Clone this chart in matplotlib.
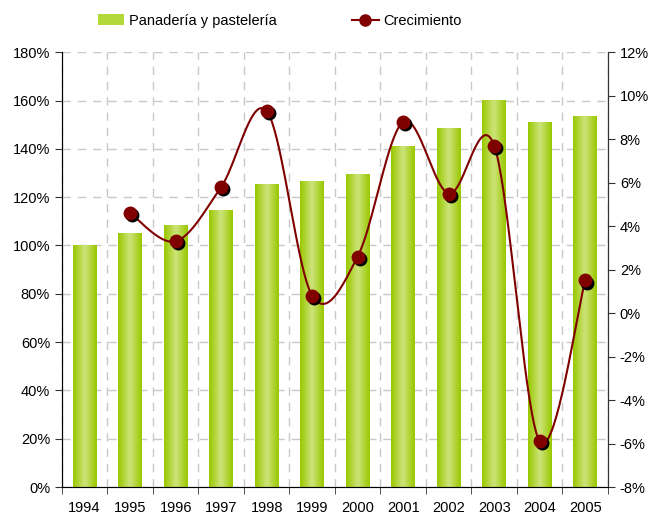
import numpy as np
import matplotlib.pyplot as plt
from matplotlib.patches import Patch
from matplotlib.lines import Line2D
from matplotlib.colors import LinearSegmentedColormap
from matplotlib.transforms import offset_copy

plt.rcParams['font.family'] = ['Liberation Sans', 'DejaVu Sans']
plt.rcParams['font.size'] = 10.5

# data
years = ['1994', '1995', '1996', '1997', '1998', '1999',
         '2000', '2001', '2002', '2003', '2004', '2005']
indice = [100, 104.8, 108.2, 114.4, 125.2, 126.3,
          129.2, 140.9, 148.6, 160.2, 150.8, 153.2]
growth_years = years[1:]
crecimiento = [4.6, 3.3, 5.8, 9.3, 0.8, 2.6, 8.8, 5.5, 7.7, -5.9, 1.5]

fig = plt.figure(figsize=(6.58, 5.17), dpi=100)
ax = fig.add_axes([0.094, 0.058, 0.830, 0.841])
ax2 = ax.twinx()

x = np.arange(len(years))
w = 0.52
grad = LinearSegmentedColormap.from_list('g', ['#99c800', '#cde47a', '#99c800'])
g = np.linspace(0, 1, 64).reshape(1, -1)
for xi, h in zip(x, indice):
    ax.imshow(g, cmap=grad, extent=(xi - w / 2, xi + w / 2, 0, h),
              aspect='auto', zorder=2, interpolation='bilinear')

ax.set_xlim(-0.5, len(years) - 0.5)
ax.set_ylim(0, 180)
ax.set_yticks(np.arange(0, 181, 20))
ax.set_yticklabels([f'{v}%' for v in range(0, 181, 20)])
ax.set_xticks(x)
ax.set_xticklabels(years)
ax.set_xticks(np.arange(-0.5, len(years), 1), minor=True)
ax.tick_params(axis='x', which='major', length=0, pad=10)
ax.tick_params(axis='x', which='minor', length=5, color='#333333')
ax.tick_params(axis='y', length=5, color='#333333')
ax.grid(True, axis='y', color='#c8c8c8', linestyle=(0, (6, 5)), linewidth=1, zorder=0)
ax.grid(True, axis='x', which='minor', color='#c8c8c8', linestyle=(0, (6, 5)), linewidth=1, zorder=0)
ax.set_axisbelow(True)

ax.spines['top'].set_visible(False)
ax2.spines['top'].set_visible(False)
ax.spines['left'].set_color('#333333')
ax.spines['bottom'].set_color('#808080')
ax2.spines['right'].set_color('#333333')

# smoothed line (Bezier through the points, like the spreadsheet smoothing)
gx = np.arange(1, len(years)).astype(float)
gy = np.array(crecimiento, dtype=float)
px = np.concatenate([[gx[0]], gx, [gx[-1]]])
py = np.concatenate([[gy[0]], gy, [gy[-1]]])
sx, sy = [], []
t = np.linspace(0, 1, 40)
for i in range(1, len(px) - 2):
    p0 = np.array([px[i], py[i]])
    p3 = np.array([px[i + 1], py[i + 1]])
    p1 = p0 + (np.array([px[i + 1], py[i + 1]]) - np.array([px[i - 1], py[i - 1]])) / 6
    p2 = p3 - (np.array([px[i + 2], py[i + 2]]) - np.array([px[i], py[i]])) / 6
    b = ((1 - t) ** 3)[:, None] * p0 + (3 * (1 - t) ** 2 * t)[:, None] * p1 \
        + (3 * (1 - t) * t ** 2)[:, None] * p2 + (t ** 3)[:, None] * p3
    sx.extend(b[:, 0])
    sy.extend(b[:, 1])
ax2.plot(sx, sy, color='#800000', linewidth=1.5, zorder=3)
# marker shadow
shadow = offset_copy(ax2.transData, fig=fig, x=1.5, y=-1.5, units='points')
ax2.plot(gx, gy, linestyle='none', marker='o', markersize=9, color='black',
         transform=shadow, zorder=4)
ax2.plot(gx, gy, linestyle='none', marker='o', markersize=9,
         markerfacecolor='#800000', markeredgecolor='#800000', zorder=5)

ax2.set_ylim(-8, 12)
ax2.set_yticks(np.arange(-8, 13, 2))
ax2.set_yticklabels([f'{v}%' for v in range(-8, 13, 2)])
ax2.tick_params(axis='y', length=5, color='#333333')
ax.set_zorder(1)
ax2.set_zorder(2)
ax2.patch.set_visible(False)

handles = [Patch(facecolor='#b2d83a', edgecolor='none'),
           Line2D([], [], color='#800000', marker='o', markersize=8, linewidth=1.5)]
fig.legend(handles, ['Panadería y pastelería', 'Crecimiento'],
           loc='center', bbox_to_anchor=(0.425, 0.96), ncol=2, frameon=False,
           handlelength=1.8, columnspacing=5.2, handletextpad=0.3)

fig.savefig('out.png', dpi=100)
